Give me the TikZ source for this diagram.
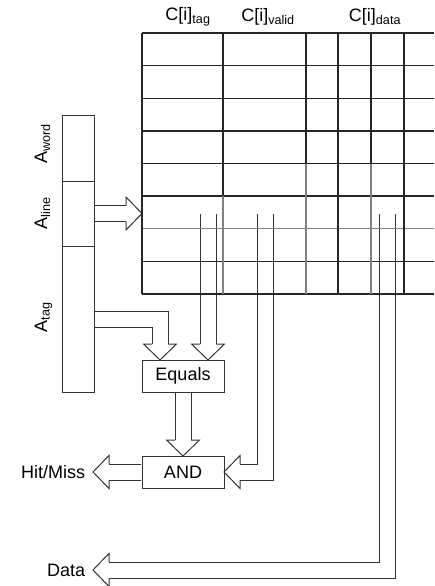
\documentclass[tikz,border=0pt]{standalone}
\usepackage{fontspec}
\setmainfont{Liberation Sans}
\usetikzlibrary{positioning}

\begin{document}
\begin{tikzpicture}[
  x=1pt, y=1pt,
  font=\fontsize{18}{20}\selectfont,
  line width=1pt,
  reg/.style={draw=black!80, rectangle, minimum width=32pt,
              outer sep=0pt, inner sep=0pt},
  gate/.style={draw=black!80, rectangle, minimum width=82pt,
               minimum height=32pt, outer sep=0pt},
  bus/.style={draw=black!80, double=white, double distance=15pt,
              line join=miter, shorten >=16pt, shorten <=0.6pt},
  bushead/.pic={\draw[black!80, line join=miter] (-8,16) -- (-16.5,16) -- (0,0) -- (16.5,16) -- (8,16);},
  cell/.style={line width=1.3pt, draw=black!85},
  faint/.style={line width=1.2pt, draw=black!50}
]
\useasboundingbox (0,0) rectangle (434,-586);
\coordinate (g) at (142,-33);
\node[reg, minimum height=66pt] (aword) at (78,-148) {};
\node[reg, minimum height=65pt, below=0pt of aword] (aline) {};
\node[reg, minimum height=146pt, below=0pt of aline] (atag) {};
\node[rotate=90, anchor=base] (lword) at ([xshift=-15pt,yshift=4pt]aword.west) {A\textsubscript{word}};
\node[rotate=90, anchor=base] (lline) at ([xshift=-15pt]aline.west) {A\textsubscript{line}};
\node[rotate=90, anchor=base] (ltag) at ([xshift=-15pt,yshift=2pt]atag.west) {A\textsubscript{tag}};
\node (ctag) at (188,-17) {C[i]\textsubscript{tag}};
\node (cvalid) at (268,-17) {C[i]\textsubscript{valid}};
\node (cdata) at (375,-17) {C[i]\textsubscript{data}};
\node[gate] (eq) at (183,-376) {Equals};
\node[gate, below=64pt of eq] (andg) {AND};
\coordinate (hittip) at ([xshift=-49pt]andg.west);
\coordinate (datatip) at ([yshift=-98pt]hittip);
\node[left=4pt of hittip] (hit) {Hit/Miss};
\node[left=4pt of datatip] (data) {Data};
\coordinate (eqin1) at ([xshift=-23pt]eq.north);
\coordinate (eqin2) at ([xshift=25pt]eq.north);
\coordinate (gridin) at (g |- aline.east);
\coordinate (tagtop) at (eqin2 |- aline.east);
\coordinate (validtop) at (265,-213.5);
\coordinate (datatop) at (387.5,-213.5);
\draw[bus] (aline) -- (gridin);
\pic[rotate=90] at (gridin) {bushead};
\draw[bus] (atag) -| (eqin1);
\pic at (eqin1) {bushead};
\draw[bus] (tagtop) -- (eqin2);
\pic at (eqin2) {bushead};
\draw[bus] (eq) -- (andg);
\pic at (andg.north) {bushead};
\draw[bus] (validtop) |- (andg);
\pic[rotate=-90] at (andg.east) {bushead};
\draw[bus] (andg) -- (hittip);
\pic[rotate=-90] at (hittip) {bushead};
\draw[bus] (datatop) |- (datatip);
\pic[rotate=-90] at (datatip) {bushead};
\foreach \r/\s in {0/cell,1/cell,2/cell,3/cell,4/cell,5/cell,6/faint,7/cell,8/cell}
  \draw[\s] (142,{-33-32.625*\r}) -- (434,{-33-32.625*\r});
\foreach \x/\k in {142/8,223/5,306/4,338/8,371/4,404/8} {
  \draw[cell] (\x,-33) -- (\x,{-33-32.625*\k});
  \draw[faint] (\x,{-33-32.625*\k}) -- (\x,-294);
}
\end{tikzpicture}
\end{document}
